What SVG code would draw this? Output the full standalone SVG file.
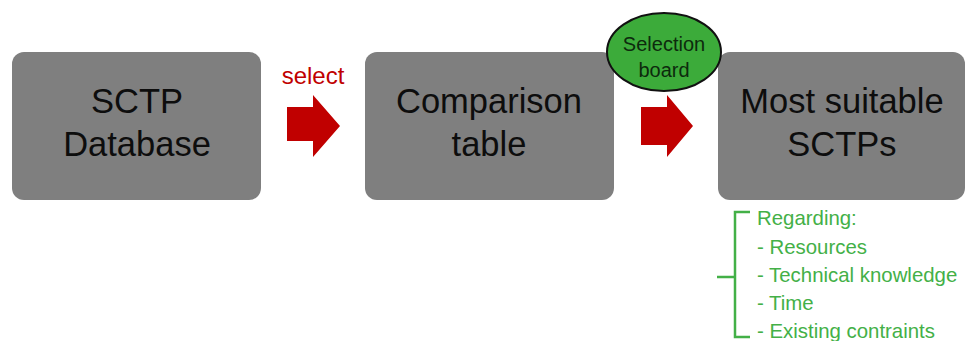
<svg xmlns="http://www.w3.org/2000/svg" width="967" height="341" viewBox="0 0 967 341">
  <style>
    .box { fill: #7f7f7f; }
    .label { font-family: "Liberation Sans", Arial, sans-serif; font-size: 34.5px; fill: #0d0d0d; text-anchor: middle; }
    .arrow { fill: #c00000; }
    .note { font-family: "Liberation Sans", Arial, sans-serif; font-size: 20.4px; fill: #43b047; }
  </style>
  <rect width="967" height="341" fill="#ffffff"/>

  <g id="sctp-database">
    <rect class="box" x="12" y="52" width="249" height="148" rx="12"/>
    <text class="label" x="137" y="113">SCTP</text>
    <text class="label" x="137" y="156">Database</text>
  </g>

  <g id="comparison-table">
    <rect class="box" x="365" y="52" width="249" height="148" rx="12"/>
    <text class="label" x="489" y="113">Comparison</text>
    <text class="label" x="489" y="156">table</text>
  </g>

  <g id="most-suitable">
    <rect class="box" x="718" y="52" width="247" height="148" rx="12"/>
    <text class="label" x="842" y="113" font-size="36">Most suitable</text>
    <text class="label" x="842" y="156" font-size="36">SCTPs</text>
  </g>

  <g id="selection-board">
    <ellipse cx="664" cy="52" rx="57" ry="39" fill="#3cab3a" stroke="#111111" stroke-width="2"/>
    <text x="664" y="51" font-family="'Liberation Sans', Arial, sans-serif" font-size="20" fill="#0d2a0d" text-anchor="middle">Selection</text>
    <text x="664" y="77" font-family="'Liberation Sans', Arial, sans-serif" font-size="20" fill="#0d2a0d" text-anchor="middle">board</text>
  </g>

  <g id="connectors">
    <polygon class="arrow" points="287,107 313,107 313,95 340,126 313,157 313,141 287,141"/>
    <text x="313" y="84" font-family="'Liberation Sans', Arial, sans-serif" font-size="24" fill="#c00000" text-anchor="middle">select</text>
    <polygon class="arrow" points="641,107 667,107 667,95 693,126 667,157 667,145 641,145"/>
  </g>

  <g id="criteria">
    <path d="M750,212 H735 V277 H717 M735,277 V337 H750" fill="none" stroke="#43b047" stroke-width="2.5"/>
    <text class="note" x="757" y="225">Regarding:</text>
    <text class="note" x="757" y="254">- Resources</text>
    <text class="note" x="757" y="282">- Technical knowledge</text>
    <text class="note" x="757" y="310">- Time</text>
    <text class="note" x="757" y="338">- Existing contraints</text>
  </g>
</svg>
